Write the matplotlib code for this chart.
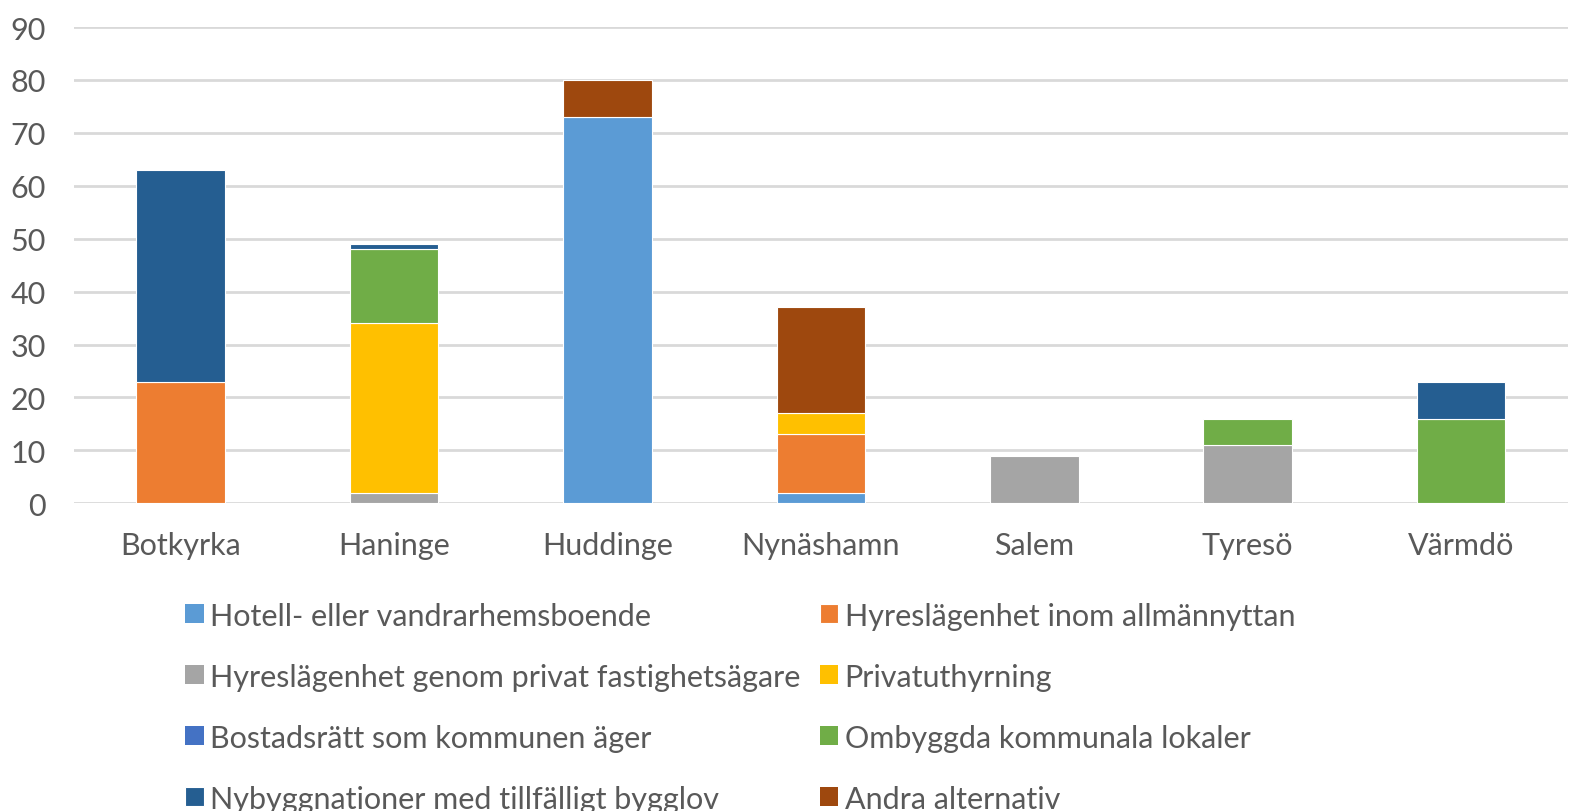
import numpy as np
import matplotlib.pyplot as plt

plt.rcParams['font.family'] = ['Lato', 'DejaVu Sans']

kommuner = ['Botkyrka', 'Haninge', 'Huddinge', 'Nynäshamn', 'Salem', 'Tyresö', 'Värmdö']

hotell = [0, 0, 73, 2, 0, 0, 0]
hyres_allm = [23, 0, 0, 11, 0, 0, 0]
hyres_privat = [0, 2, 0, 0, 9, 11, 0]
privatuthyrning = [0, 32, 0, 4, 0, 0, 0]
bostadsratt = [0, 0, 0, 0, 0, 0, 0]
ombyggda = [0, 14, 0, 0, 0, 5, 16]
nybygg = [40, 1, 0, 0, 0, 0, 7]
andra = [0, 0, 7, 20, 0, 0, 0]

serier = [
    ('Hotell- eller vandrarhemsboende', hotell, '#5B9BD5'),
    ('Hyreslägenhet inom allmännyttan', hyres_allm, '#ED7D31'),
    ('Hyreslägenhet genom privat fastighetsägare', hyres_privat, '#A5A5A5'),
    ('Privatuthyrning', privatuthyrning, '#FFC000'),
    ('Bostadsrätt som kommunen äger', bostadsratt, '#4472C4'),
    ('Ombyggda kommunala lokaler', ombyggda, '#70AD47'),
    ('Nybyggnationer med tillfälligt bygglov', nybygg, '#255E91'),
    ('Andra alternativ', andra, '#9E480E'),
]

txt = '#595959'
fig = plt.figure(figsize=(15.71, 8.12), dpi=100)
ax = fig.add_axes([0.047, 0.379, 0.951, 0.5865])

x = np.arange(len(kommuner))
bottom = np.zeros(len(kommuner))
handles = []
for namn, vals, col in serier:
    vals = np.array(vals, dtype=float)
    lw = [0.8 if v > 0 else 0 for v in vals]
    b = ax.bar(x, vals, 0.415, bottom=bottom, color=col, edgecolor='white',
               linewidth=lw, label=namn, zorder=3)
    handles.append(b)
    bottom += vals

ax.set_xlim(-0.5, len(kommuner) - 0.5)
ax.set_ylim(0, 90)
ax.set_yticks(range(0, 91, 10))
ax.yaxis.grid(True, color='#D9D9D9', linewidth=2, zorder=0)
ax.set_axisbelow(True)
for s in ax.spines.values():
    s.set_visible(False)
ax.tick_params(length=0, labelsize=22, colors=txt)
ax.tick_params(axis='y', pad=20)
ax.tick_params(axis='x', pad=20)
ax.set_xticks(x)
ax.set_xticklabels(kommuner)

# legenden fylls kolumnvis, så ordna om för radvis läsning
order = [0, 2, 4, 6, 1, 3, 5, 7]
leg = fig.legend([handles[i] for i in order], [serier[i][0] for i in order],
                 ncol=2, loc='upper left', bbox_to_anchor=(0.118, 0.258),
                 frameon=False, fontsize=22, handlelength=0.6, handleheight=0.6,
                 handletextpad=0.2, columnspacing=0.65, labelspacing=1.08,
                 borderaxespad=0, borderpad=0)
for t in leg.get_texts():
    t.set_color(txt)

fig.savefig('out.png', dpi=100)
